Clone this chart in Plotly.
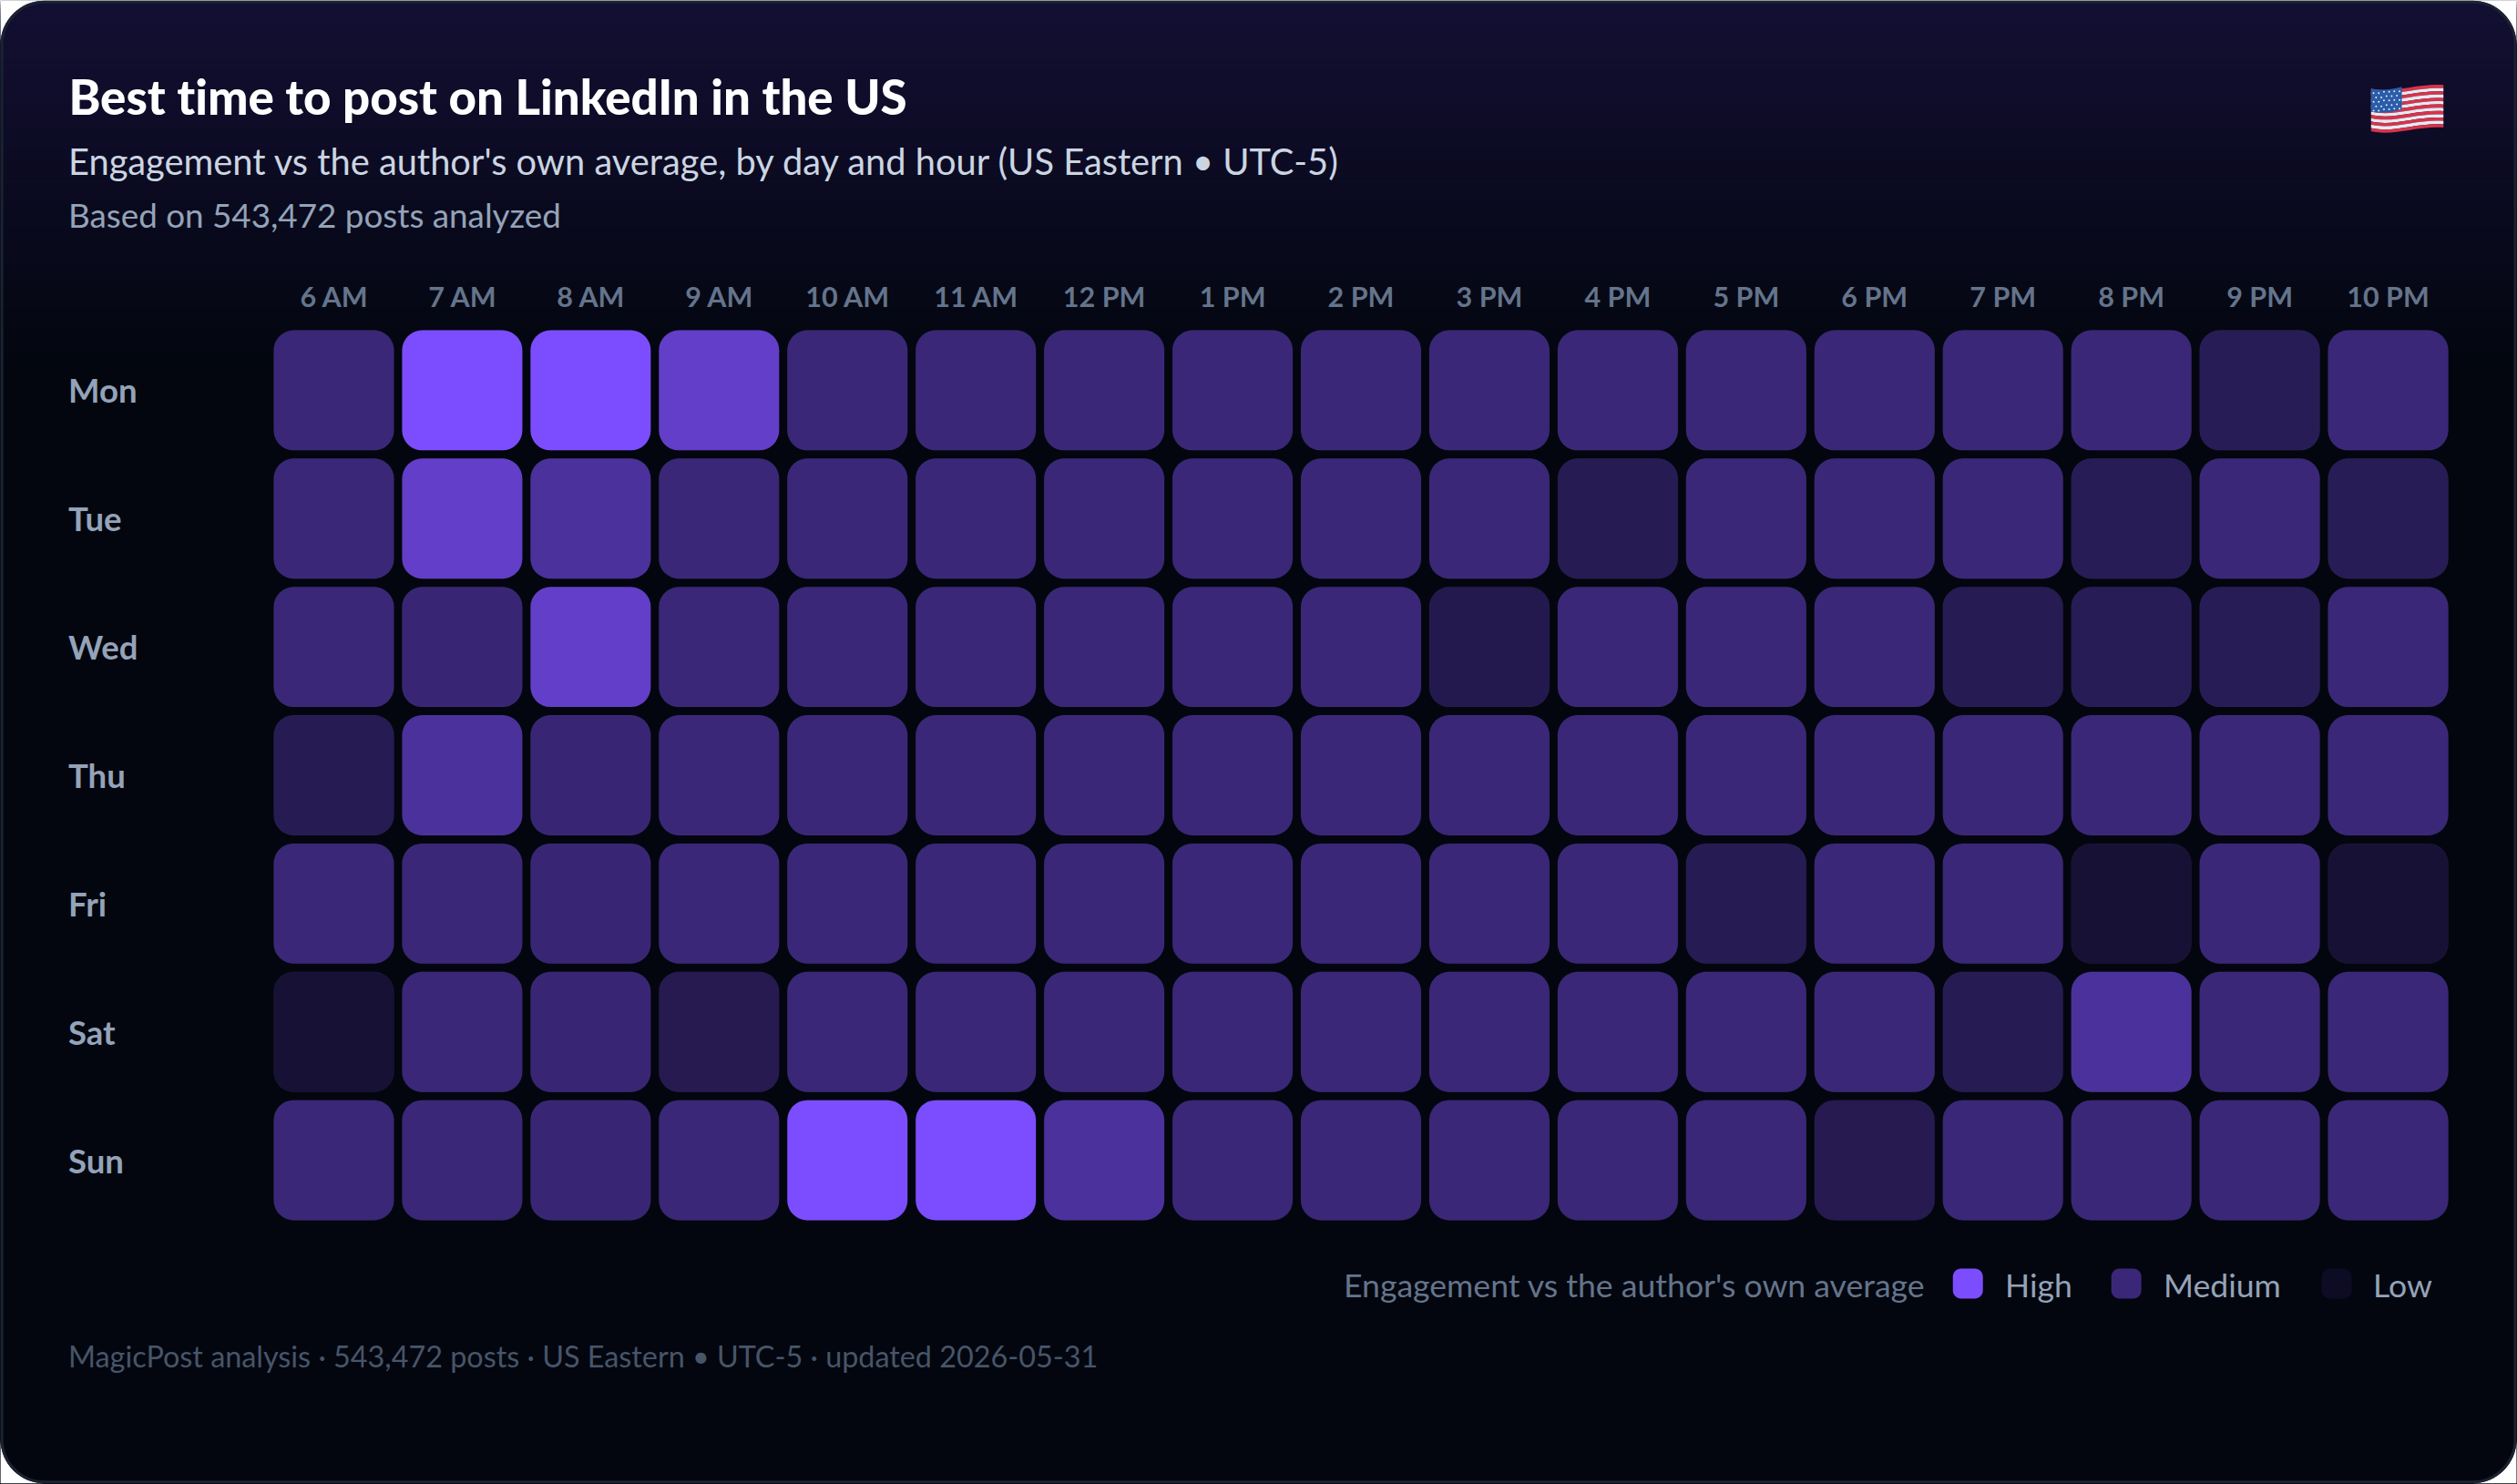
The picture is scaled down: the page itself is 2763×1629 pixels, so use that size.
import base64

import numpy as np
import plotly.graph_objs as go

W, H = 2763, 1629

hour_labels = ["6 AM", "7 AM", "8 AM", "9 AM", "10 AM", "11 AM", "12 PM", "1 PM", "2 PM",
               "3 PM", "4 PM", "5 PM", "6 PM", "7 PM", "8 PM", "9 PM", "10 PM"]
day_labels = ["Mon", "Tue", "Wed", "Thu", "Fri", "Sat", "Sun"]

# Engagement level (0 = low, 0.5 = medium, 1 = high)
mon = [0.5, 1.0, 1.0, 0.8, 0.5, 0.5, 0.5, 0.5, 0.5, 0.5, 0.5, 0.5, 0.5, 0.5, 0.5, 0.3, 0.5]
tue = [0.5, 0.8, 0.63, 0.5, 0.5, 0.5, 0.5, 0.5, 0.5, 0.5, 0.28, 0.5, 0.5, 0.5, 0.3, 0.5, 0.3]
wed = [0.5, 0.48, 0.8, 0.5, 0.5, 0.5, 0.5, 0.5, 0.5, 0.25, 0.5, 0.5, 0.5, 0.28, 0.3, 0.3, 0.5]
thu = [0.28, 0.63, 0.48, 0.5, 0.5, 0.5, 0.5, 0.5, 0.5, 0.5, 0.5, 0.5, 0.5, 0.5, 0.5, 0.5, 0.5]
fri = [0.5, 0.5, 0.48, 0.5, 0.5, 0.5, 0.5, 0.5, 0.5, 0.5, 0.5, 0.28, 0.5, 0.5, 0.11, 0.5, 0.11]
sat = [0.11, 0.5, 0.48, 0.27, 0.5, 0.5, 0.5, 0.5, 0.5, 0.5, 0.5, 0.5, 0.5, 0.28, 0.63, 0.5, 0.5]
sun = [0.5, 0.5, 0.48, 0.5, 1.0, 1.0, 0.63, 0.5, 0.5, 0.5, 0.5, 0.5, 0.27, 0.5, 0.5, 0.5, 0.5]
rows = [mon, tue, wed, thu, fri, sat, sun]

legend_labels = ["High", "Medium", "Low"]
legend_colors = ["#7c4dff", "#3b2778", "#0e0b24"]

LOW, MID, HIGH = "#0e0b24", "#3a2778", "#7c4dff"

# Plot area in pixels: cells have a 141px pitch
L, T = 295.5, 357.5
PW, PH = 141 * 17, 141 * 7


def px(x):
    return (x - L) / PW


def py_(y):
    return 1 - (y - T) / PH


def pt(x, y):
    return f"{px(x):.6f},{py_(y):.6f}"


def rounded(x0, y0, x1, y1, r):
    k = r * 0.448
    return (
        f"M{pt(x0 + r, y0)} L{pt(x1 - r, y0)} C{pt(x1 - k, y0)} {pt(x1, y0 + k)} {pt(x1, y0 + r)} "
        f"L{pt(x1, y1 - r)} C{pt(x1, y1 - k)} {pt(x1 - k, y1)} {pt(x1 - r, y1)} "
        f"L{pt(x0 + r, y1)} C{pt(x0 + k, y1)} {pt(x0, y1 - k)} {pt(x0, y1 - r)} "
        f"L{pt(x0, y0 + r)} C{pt(x0, y0 + k)} {pt(x0 + k, y0)} {pt(x0 + r, y0)} Z"
    )


def corner(cx, cy, ex, ey, r):
    # white notch outside the card's rounded corner
    k = r * 0.552
    sx = 1 if ex > cx else -1
    sy = 1 if ey > cy else -1
    return (
        f"M{pt(cx, cy)} L{pt(cx + sx * r, cy)} "
        f"C{pt(cx + sx * (r - k), cy)} {pt(cx, cy + sy * (r - k))} {pt(cx, cy + sy * r)} Z"
    )


def flag_uri():
    parts = ['<svg xmlns="http://www.w3.org/2000/svg" viewBox="0 0 80 56">']
    sh = 3.6

    def edge(y):
        return f"C25 {y + 6:.1f} 50 {y - 6:.1f} 80 {y - 4:.1f}"

    def back(y):
        return f"C50 {y - 6:.1f} 25 {y + 6:.1f} 0 {y:.1f}"

    for i in range(13):
        y = 4.5 + i * sh
        col = "#d8334a" if i % 2 == 0 else "#e6e9f2"
        parts.append(f'<path d="M0 {y:.1f} {edge(y)} L80 {y - 4 + sh:.1f} {back(y + sh)} Z" fill="{col}"/>')
    parts.append('<path d="M0 4.5 C12 7 24 5.5 34 2.5 L34 27.5 C24 30.5 12 32 0 29.7 Z" fill="#2a5ca8"/>')
    for r in range(5):
        for c in range(6):
            cx = 3 + c * 5.7 + (2.8 if r % 2 else 0)
            if cx > 33:
                continue
            cy = 8 + r * 4.8 + (1.5 if c < 2 else 0) - (0.6 if c > 3 else 0)
            parts.append(f'<circle cx="{cx:.1f}" cy="{cy:.1f}" r="1" fill="#e8ecf5"/>')
    parts.append("</svg>")
    return "data:image/svg+xml;base64," + base64.b64encode("".join(parts).encode()).decode()


# Flatten the grid
n_h, n_d = len(hour_labels), len(day_labels)
xs = np.tile(np.arange(n_h), n_d)
ys = np.repeat(np.arange(n_d), n_h)
vals = np.array(rows).ravel()
cell = 132 / 141
scale = [[0, LOW], [0.5, MID], [1, HIGH]]
labels = [f"{day_labels[d]} {hour_labels[h]}" for d, h in zip(ys, xs)]

data = [go.Bar(
    x=xs,
    y=cell * np.ones(len(xs)),
    base=ys - cell / 2,
    width=cell,
    text=labels,
    textposition="none",
    customdata=vals,
    hovertemplate="%{text}: %{customdata}<extra></extra>",
    marker=dict(color=vals, colorscale=scale, cmin=0, cmax=1, cornerradius=22,
                line=dict(width=1, color="rgba(255,255,255,0.03)")),
    showlegend=False,
)]

shapes = []
# Card background: the gradient fades out over the first 400px
top_c = np.array([0x13, 0x0f, 0x33])
bot_c = np.array([0x03, 0x06, 0x0f])
for y in range(0, 404, 4):
    c = top_c + (bot_c - top_c) * min(y / 400, 1)
    shapes.append(dict(type="rect", xref="paper", yref="paper", x0=px(0), x1=px(W),
                       y0=py_(y), y1=py_(H), layer="below", line_width=0,
                       fillcolor=f"rgb({c[0]:.0f},{c[1]:.0f},{c[2]:.0f})"))
for cx, cy, ex, ey in [(0, 0, 1, 1), (W, 0, 0, 1), (0, H, 1, 0), (W, H, 0, 0)]:
    shapes.append(dict(type="path", xref="paper", yref="paper", layer="below", line_width=0,
                       fillcolor="white", path=corner(cx, cy, ex, ey, 48)))
shapes.append(dict(type="path", xref="paper", yref="paper", layer="below",
                   line=dict(color="#1c2230", width=3),
                   path=rounded(1.5, 1.5, W - 1.5, H - 1.5, 47)))

# Legend swatches
for x0, col in zip([2144, 2318, 2549], legend_colors):
    shapes.append(dict(type="path", xref="paper", yref="paper", layer="below", line_width=0,
                       fillcolor=col, path=rounded(x0, 1393, x0 + 33, 1426, 9)))


def label(x, y, text, size, color, weight=400):
    return dict(x=px(x), y=py_(y), xref="paper", yref="paper", text=text,
                showarrow=False, xanchor="left", yanchor="middle", borderpad=0,
                font=dict(family="Lato", size=size, color=color, weight=weight))


annotations = [
    label(73, 105, "Best time to post on LinkedIn in the US", 52.8, "#ffffff", weight=900),
    label(73, 176, "Engagement vs the author's own average, by day and hour (US Eastern • UTC-5)", 39.8, "#cbd5e1"),
    label(73, 235, "Based on 543,472 posts analyzed", 36.8, "#94a3b8"),
    label(1474, 1411, "Engagement vs the author's own average", 35.6, "#64748b"),
    label(2200, 1411, legend_labels[0], 35.6, "#94a3b8"),
    label(2374, 1411, legend_labels[1], 35.6, "#94a3b8"),
    label(2604, 1411, legend_labels[2], 35.6, "#94a3b8"),
    label(73, 1489, "MagicPost analysis · 543,472 posts · US Eastern • UTC-5 · updated 2026-05-31", 32.35, "#475569"),
]
for i, d in enumerate(day_labels):
    annotations.append(label(73, 428 + i * 141, d, 36.5, "#94a3b8", weight=700))

layout = go.Layout(
    width=W,
    height=H,
    margin=dict(l=L, r=W - L - PW, t=T, b=H - T - PH, pad=0),
    paper_bgcolor="white",
    plot_bgcolor="rgba(0,0,0,0)",
    barmode="overlay",
    hoverlabel=dict(font=dict(family="Lato")),
    xaxis=dict(
        side="top",
        range=[-0.5, n_h - 0.5],
        tickmode="array",
        tickvals=list(range(n_h)),
        ticktext=hour_labels,
        tickfont=dict(family="Lato", size=30.5, color="#64748b", weight=700),
        ticks="outside",
        ticklen=8,
        tickcolor="rgba(0,0,0,0)",
        showgrid=False,
        zeroline=False,
        showline=False,
        fixedrange=True,
    ),
    yaxis=dict(
        range=[n_d - 0.5, -0.5],
        showticklabels=False,
        ticks="",
        showgrid=False,
        zeroline=False,
        showline=False,
        fixedrange=True,
    ),
    shapes=shapes,
    annotations=annotations,
    images=[dict(source=flag_uri(), xref="paper", yref="paper", x=px(2603), y=py_(92),
                 sizex=80 / PW, sizey=56 / PH, xanchor="left", yanchor="top",
                 sizing="stretch", layer="above")],
)

# Page margin off, ligatures off as in the reference
post = (
    "document.body.style.margin='0';"
    "var s=document.createElement('style');"
    "s.textContent='text{font-feature-settings:\"liga\" 0,\"dlig\" 0 !important;"
    "font-variant-ligatures:none !important}';"
    "document.head.appendChild(s);"
)

fig = go.Figure(data=data, layout=layout)
fig.write_html("out.html", post_script=post, config=dict(displayModeBar=False))
